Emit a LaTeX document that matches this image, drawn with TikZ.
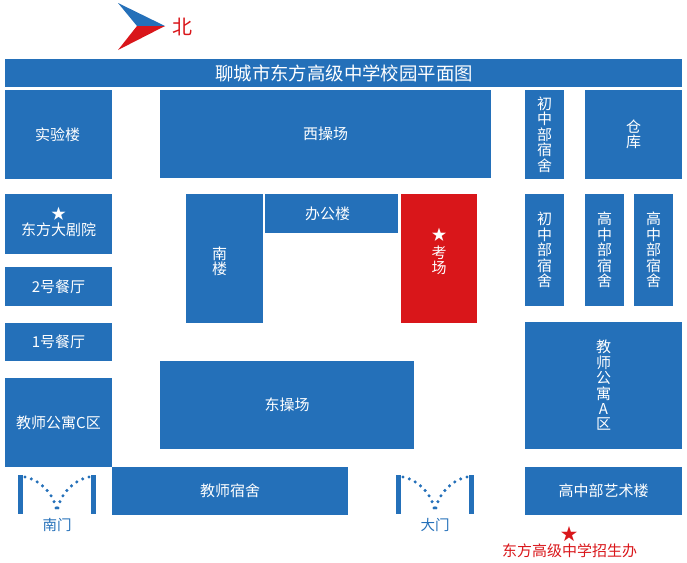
\documentclass[tikz,border=0pt]{standalone}
\usepackage{fontspec}
\setmainfont{Noto Sans CJK SC}
\definecolor{mapblue}{HTML}{2470B9}
\definecolor{mapred}{HTML}{D9161A}
\tikzset{
  lbl/.style={text=white,font=\fontsize{15}{15.4}\selectfont,align=center,inner sep=0pt},
  doorbar/.style={draw=none,fill=mapblue},
  swing/.style={mapblue,line width=3.4pt,line cap=round,dash pattern=on 0pt off 6.6pt},
  gatelabel/.style={text=mapblue,font=\fontsize{14.5}{15}\selectfont,inner sep=0pt}
}
\newcommand{\bx}[8][mapblue]{%
  \fill[#1] (#3,#4) rectangle (#5,#6);
  \node[lbl,#8] (#2) at ({(#3+#5)/2},{(#4+#6)/2}) {#7};}
\newcommand{\gate}[3]{%
  \fill[doorbar] (#1-39,475) rectangle (#1-34,514);
  \fill[doorbar] (#1+34,475) rectangle (#1+39,514);
  \coordinate (#2l) at (#1-32,477);
  \coordinate (#2r) at (#1+32,477);
  \coordinate (#2m) at (#1,513);
  \draw[swing] (#2l) .. controls (#1-17,480) and (#1-2,494) .. (#2m);
  \draw[swing] (#2r) .. controls (#1+17,480) and (#1+2,494) .. (#2m);
  \node[gatelabel] (#2t) at (#1,525) {#3};}
\begin{document}
\begin{tikzpicture}[x=1pt,y=-1pt]
\useasboundingbox (0,0) rectangle (687,562);
% north arrow
\fill[mapblue] (118,3) -- (165,26) -- (137,26) -- cycle;
\fill[mapred] (118,50) -- (165,26) -- (137,26) -- cycle;
\node[text=mapred,font=\fontsize{20}{20}\selectfont,inner sep=0pt] (north) at (182,27) {北};
% title
\fill[mapblue] (5,59) rectangle (682,87);
\node[lbl,font=\fontsize{18.4}{18.4}\selectfont] (title) at (344,73) {聊城市东方高级中学校园平面图};
% buildings
\bx{shiyan}{5}{90}{112}{179}{实验楼}{xshift=-1pt}
\bx{xicao}{160}{90}{491}{178}{西操场}{}
\bx{chu1}{525}{90}{564}{179}{初\\中\\部\\宿\\舍}{}
\bx{cang}{585}{90}{682}{179}{仓\\库}{}
\bx{juyuan}{5}{194}{112}{254}{★\\[1pt]东方大剧院}{yshift=2pt}
\bx{nan}{186}{194}{263}{323}{南\\楼}{xshift=-5pt,yshift=-2.5pt}
\bx{ban}{265}{194}{398}{233}{办公楼}{xshift=-4pt}
\bx[mapred]{kao}{401}{194}{477}{323}{★\\[3pt]考\\场}{yshift=7pt}
\bx{chu2}{525}{194}{564}{306}{初\\中\\部\\宿\\舍}{}
\bx{gao1}{585}{194}{624}{306}{高\\中\\部\\宿\\舍}{}
\bx{gao2}{634}{194}{673}{306}{高\\中\\部\\宿\\舍}{}
\bx{can2}{5}{267}{112}{306}{2号餐厅}{}
\bx{can1}{5}{323}{112}{361}{1号餐厅}{}
\bx{dongcao}{160}{361}{414}{449}{东操场}{}
\bx{gongA}{525}{322}{682}{449}{教\\师\\公\\寓\\A\\区}{}
\bx{gongC}{5}{378}{112}{467}{教师公寓C区}{}
\bx{sushe}{112}{467}{348}{515}{教师宿舍}{}
\bx{yishu}{525}{467}{682}{515}{高中部艺术楼}{}
% gates
\gate{57}{sg}{南门}
\gate{435}{dg}{大门}
% admissions office
\node[text=mapred,font=\fontsize{17}{17}\selectfont,inner sep=0pt] (star) at (569,534) {★};
\node[text=mapred,font=\fontsize{15}{15}\selectfont,inner sep=0pt] (office) at (569.5,551) {东方高级中学招生办};
\end{tikzpicture}
\end{document}
